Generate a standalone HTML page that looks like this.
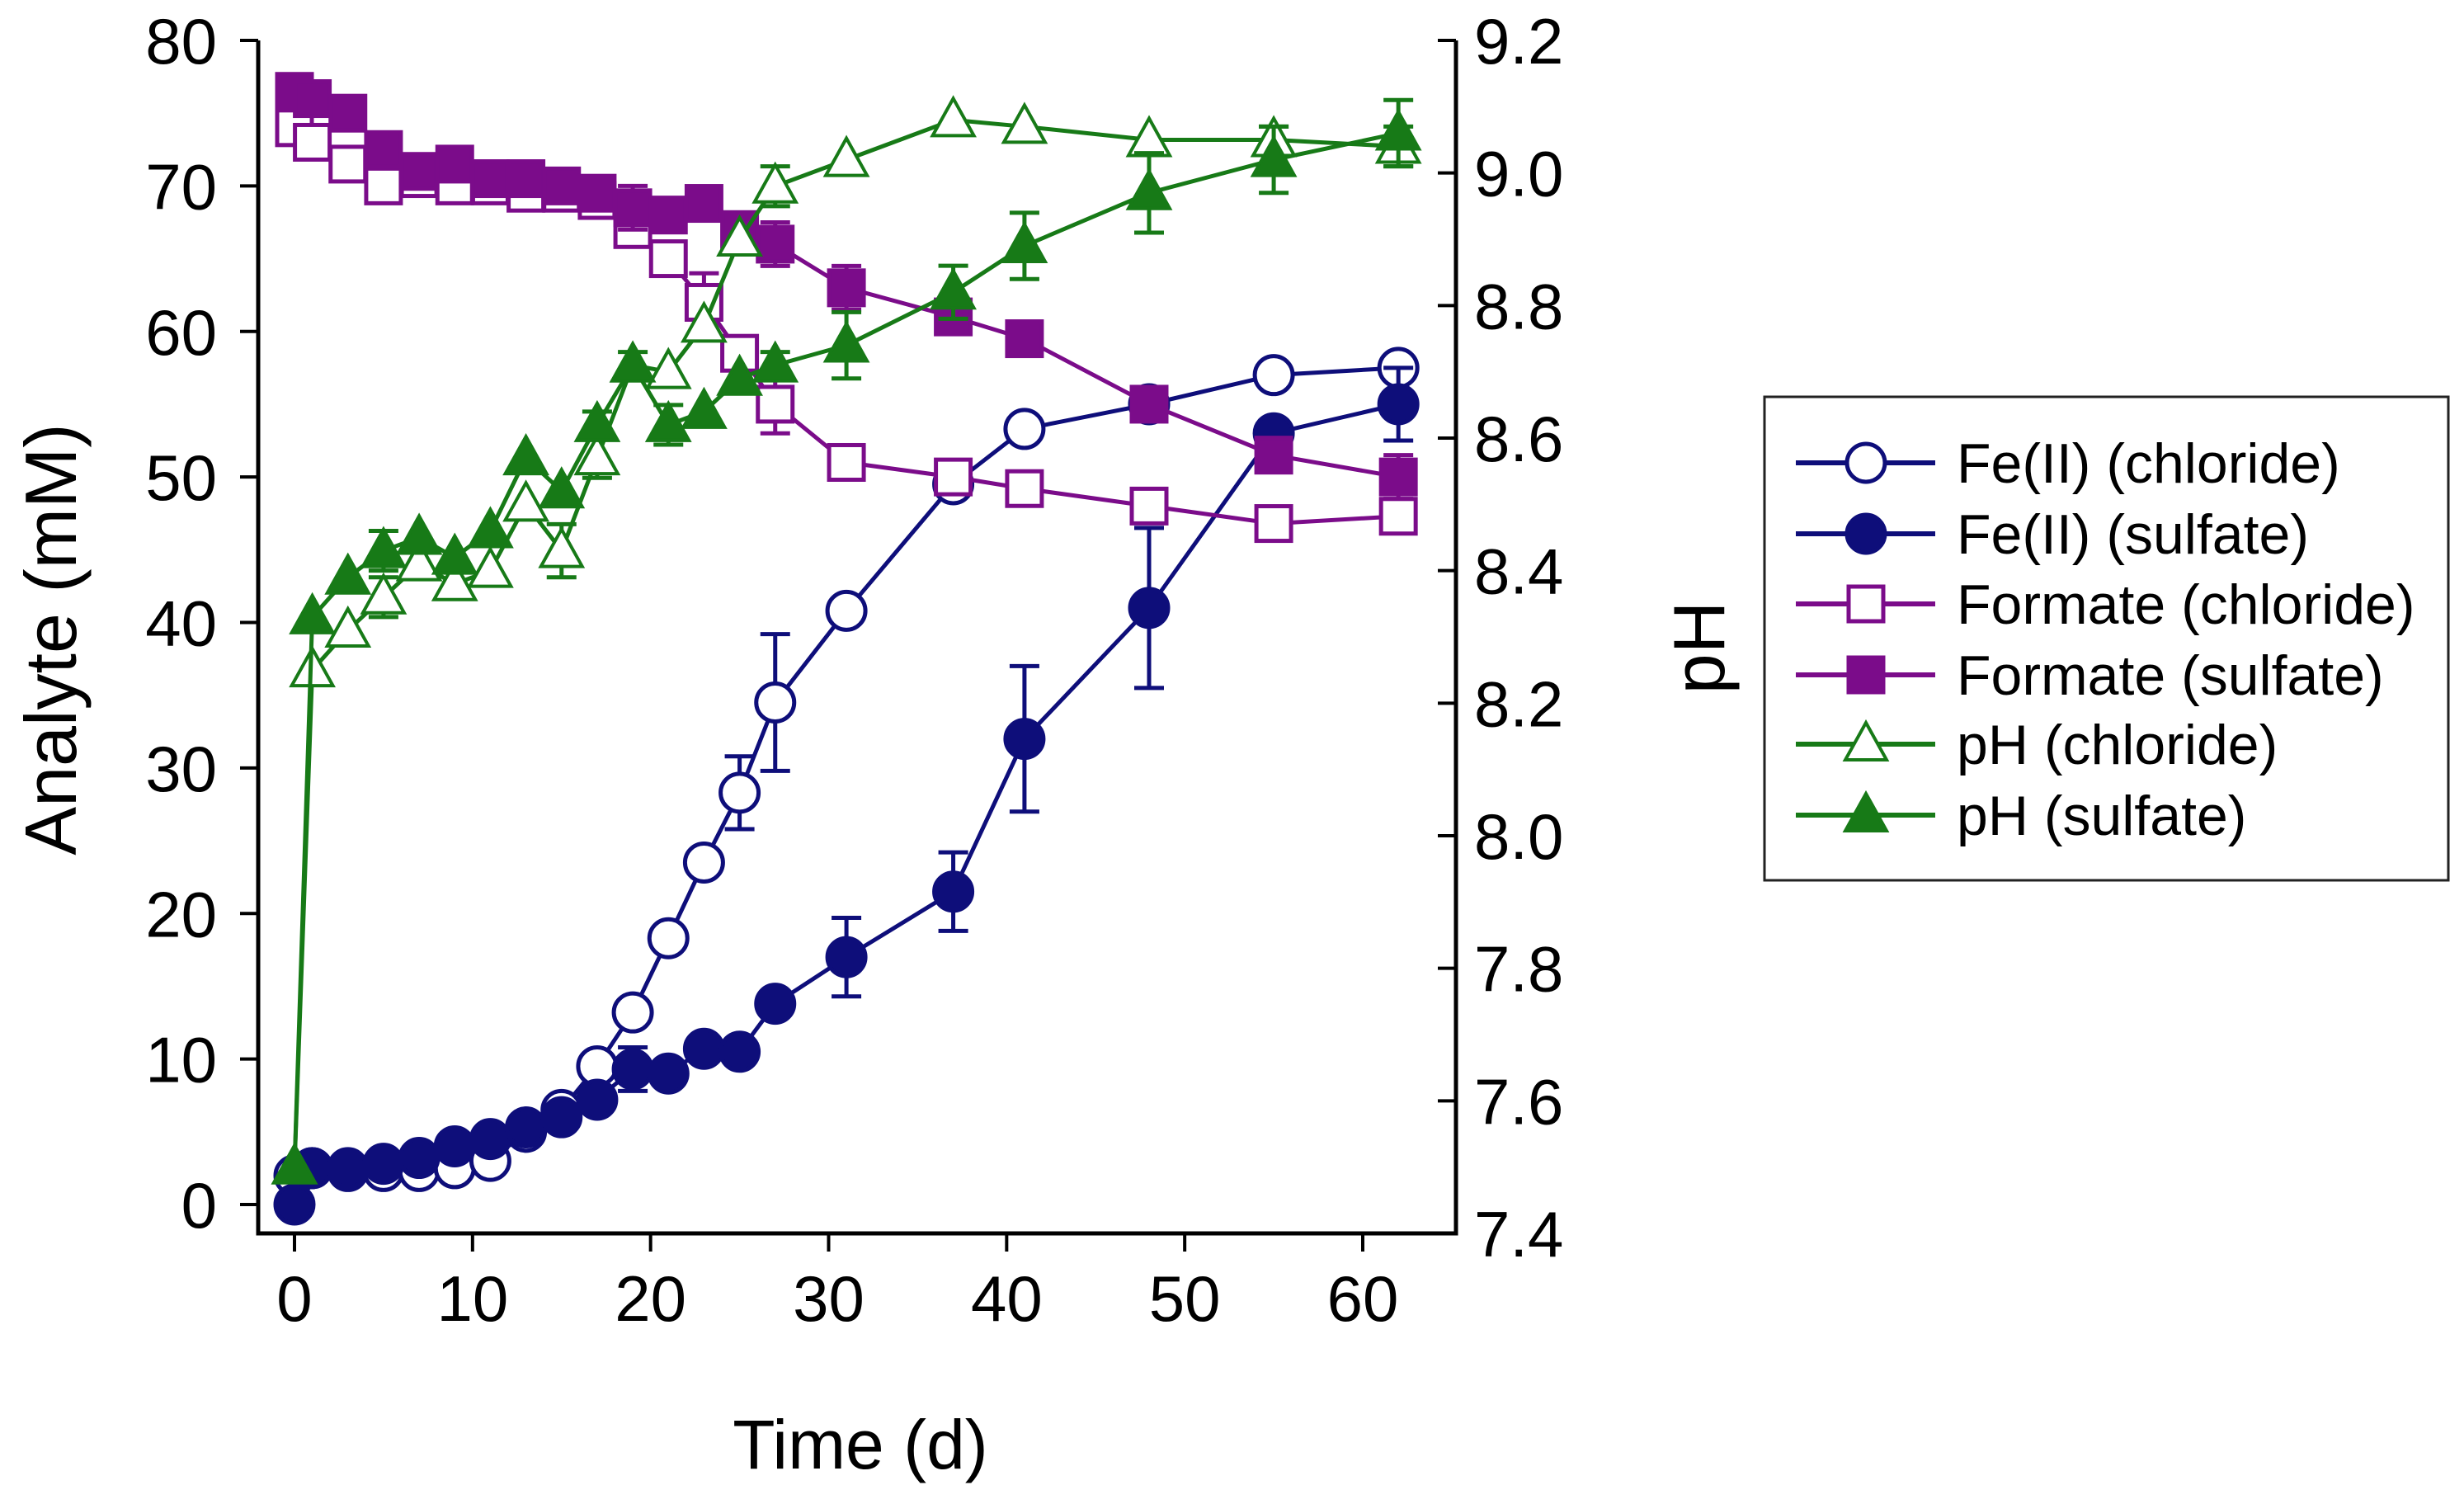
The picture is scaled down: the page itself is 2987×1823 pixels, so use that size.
<!DOCTYPE html>
<html><head><meta charset="utf-8"><style>
html,body{margin:0;padding:0;background:#fff;}
svg{display:block;font-family:"Liberation Sans",Arial,sans-serif;}
</style></head><body>
<svg id="chart" width="2987" height="1823" viewBox="0 0 2987 1823" xmlns="http://www.w3.org/2000/svg">
<g id="axes"></g>
<g id="series"></g>
<text transform="translate(92,775) rotate(-90)" text-anchor="middle" font-size="88">Analyte (mM)</text>
<text transform="translate(2090,785) rotate(-90)" text-anchor="middle" font-size="88">pH</text>
<text x="1043" y="1780" text-anchor="middle" font-size="84">Time (d)</text>
<g id="legend">
<rect x="2139" y="481" width="829" height="586" fill="#fff" stroke="#222" stroke-width="3"/>
</g>
</svg>
<script>
const times=[0,1,3,5,7,9,11,13,15,17,19,21,23,25,27,31,37,41,48,55,62];
const feChloride=[2,2.5,2.3,2.3,2.3,2.5,3,5,6.5,9.5,13.2,18.3,23.5,28.3,34.5,40.8,49.5,53.3,55,57,57.5];
const feChlorideErr=[0,0,0,0,0,0,0,0,0,0,0,0,0,2.5,4.7,0,0,0,0,0,0];
const feSulfate=[0,2.5,2.5,2.8,3.2,4,4.5,5.3,6,7.2,9.3,9,10.7,10.5,13.8,17,21.5,32,41,53,55];
const feSulfateErr=[0,0,0,0,0,0,0,0,0,0,1.5,0,0,0,0,2.7,2.7,5,5.5,0,2.5];
const formChloride=[74,73,71.5,70,70.5,70,70,69.5,69.5,69,67,65,62,58.5,55,51,50,49.2,48,46.8,47.3];
const formChlorideErr=[0,0,0,1,0,0,0,0,0,0,0,0,2,0,2,0,0,0,0,0,0];
const formSulfate=[76.5,76,75,72.5,71,71.5,70.5,70.5,70,69.5,68.5,68,68.8,67,66,63,61,59.5,55,51.5,50];
const formSulfateErr=[0,0,1,0,0,0,0,0,0,0,1.5,0,0,0,1.5,1.5,0,0,0,0,1.5];
const phChloride=[7.50,8.25,8.31,8.36,8.41,8.38,8.40,8.50,8.43,8.57,8.71,8.70,8.77,8.90,8.98,9.02,9.08,9.07,9.05,9.05,9.04];
const phChlorideErr=[0,0,0,0.03,0.02,0,0,0,0.04,0.03,0,0,0,0,0.03,0,0,0,0,0.02,0.03];
const phSulfate=[7.50,8.33,8.39,8.43,8.45,8.42,8.46,8.57,8.52,8.62,8.71,8.62,8.64,8.69,8.71,8.74,8.82,8.89,8.97,9.02,9.06];
const phSulfateErr=[0,0,0,0.03,0,0,0,0,0,0.02,0.02,0.03,0,0,0.02,0.05,0.04,0.05,0.06,0.05,0.05];
const xTicks=[0,10,20,30,40,50,60];
const yTicks=[0,10,20,30,40,50,60,70,80];
const y2Ticks=["7.4","7.6","7.8","8.0","8.2","8.4","8.6","8.8","9.0","9.2"];

const NS="http://www.w3.org/2000/svg";
const L=313,R=1765,T=49,B=1495;
const xs=t=>357+(t/60)*(1652-357);
const ys=v=>1460-v*(1460-49)/80;
const yp=p=>B-(p-7.4)*(B-T)/1.8;
function mk(tag,attrs,parent){const e=document.createElementNS(NS,tag);for(const k in attrs)e.setAttribute(k,attrs[k]);parent.appendChild(e);return e;}
const axes=document.getElementById('axes');
const ser=document.getElementById('series');
const leg=document.getElementById('legend');

let e;
e=mk('path',{d:`M${L},${T}V${B}H${R}V${T}`,fill:'none',stroke:'#000','stroke-width':5},axes);


xTicks.forEach(t=>{
  e=mk('line',{x1:xs(t),x2:xs(t),y1:B,y2:B+22,stroke:'#000','stroke-width':4},axes);
  
  
  e=mk('text',{x:xs(t),y:B+106,'text-anchor':'middle','font-size':78},axes);
  e.textContent=t;
  
  
});
yTicks.forEach(v=>{
  e=mk('line',{x1:L-22,x2:L,y1:ys(v),y2:ys(v),stroke:'#000','stroke-width':4},axes);
  
  
  e=mk('text',{x:L-50,y:ys(v)+28,'text-anchor':'end','font-size':78},axes);
  e.textContent=v;
  
  
});
y2Ticks.forEach(s=>{
  const p=parseFloat(s);
  e=mk('line',{x1:R-22,x2:R,y1:yp(p),y2:yp(p),stroke:'#000','stroke-width':4},axes);
  
  
  e=mk('text',{x:R+22,y:yp(p)+28,'font-size':78},axes);
  e.textContent=s;
  
  
});

function marker(shape,filled,color,x,y,parent,name){
  const fill=filled?color:'#fff';
  let m;
  if(shape==='circle') m=mk('circle',{cx:x,cy:y,r:23,fill,stroke:color,'stroke-width':5},parent);
  else if(shape==='square') m=mk('rect',{x:x-21,y:y-21,width:42,height:42,fill,stroke:color,'stroke-width':5},parent);
  else m=mk('path',{d:`M${x},${y-26}L${x+25},${y+19}L${x-25},${y+19}Z`,fill,stroke:color,'stroke-width':4},parent);
  
  
}
const seriesDefs=[
  {name:'fe-chloride',vals:feChloride,err:feChlorideErr,sc:ys,shape:'circle',filled:false,color:'#0e0e7a'},
  {name:'fe-sulfate',vals:feSulfate,err:feSulfateErr,sc:ys,shape:'circle',filled:true,color:'#0e0e7a'},
  {name:'formate-chloride',vals:formChloride,err:formChlorideErr,sc:ys,shape:'square',filled:false,color:'#7b0c8a'},
  {name:'formate-sulfate',vals:formSulfate,err:formSulfateErr,sc:ys,shape:'square',filled:true,color:'#7b0c8a'},
  {name:'ph-chloride',vals:phChloride,err:phChlorideErr,sc:yp,shape:'tri',filled:false,color:'#177a17'},
  {name:'ph-sulfate',vals:phSulfate,err:phSulfateErr,sc:yp,shape:'tri',filled:true,color:'#177a17'}
];
seriesDefs.forEach(s=>{
  const g=mk('g',{},ser);
  
  
  const pts=times.map((t,i)=>[xs(t),s.sc(s.vals[i])]);
  e=mk('polyline',{points:pts.map(p=>p.join(',')).join(' '),fill:'none',stroke:s.color,'stroke-width':5},g);
  
  
  times.forEach((t,i)=>{
    if(s.err[i]>0){
      const x=xs(t),y1=s.sc(s.vals[i]-s.err[i]),y2=s.sc(s.vals[i]+s.err[i]);
      e=mk('path',{d:`M${x},${y1}V${y2}M${x-18},${y1}H${x+18}M${x-18},${y2}H${x+18}`,stroke:s.color,'stroke-width':5,fill:'none'},g);
      
      
    }
  });
  pts.forEach(p=>marker(s.shape,s.filled,s.color,p[0],p[1],g,s.name+'-point'));
});

const legLabels=["Fe(II) (chloride)","Fe(II) (sulfate)","Formate (chloride)","Formate (sulfate)","pH (chloride)","pH (sulfate)"];
const legY=[561,647,732,818,902,988];
seriesDefs.forEach((s,i)=>{
  const g=mk('g',{},leg);
  
  
  e=mk('line',{x1:2177,x2:2346,y1:legY[i],y2:legY[i],stroke:s.color,'stroke-width':6},g);
  
  
  marker(s.shape,s.filled,s.color,2262,legY[i],g,'legend-marker');
  e=mk('text',{x:2372,y:legY[i]+24,'font-size':68},g);
  e.textContent=legLabels[i];
  
  
});
</script>
</body></html>
